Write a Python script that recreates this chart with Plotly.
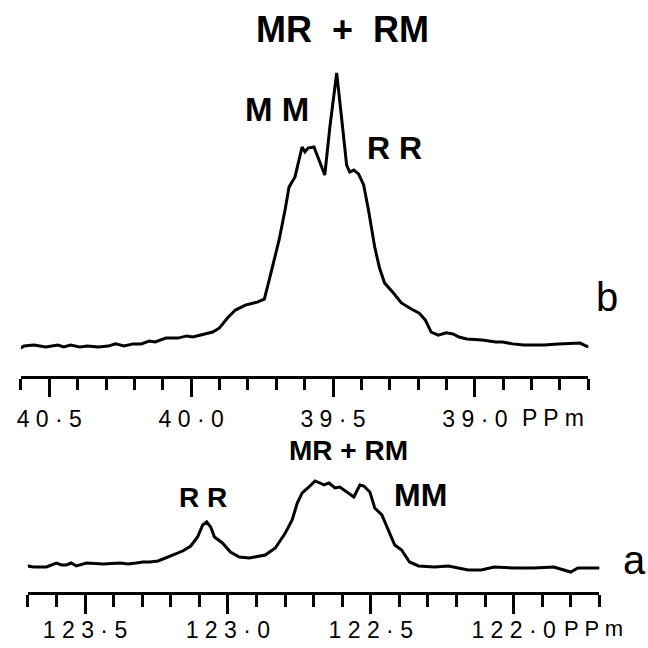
import plotly.graph_objects as go

# ---- Spectrum b (aliphatic region, ppm) ----
b_ppm = [40.614, 40.589, 40.554, 40.512, 40.470, 40.449, 40.425, 40.393, 40.365, 40.327,
         40.292, 40.267, 40.236, 40.204, 40.176, 40.148, 40.127, 40.089, 40.047, 40.015,
         39.994, 39.970, 39.924, 39.900, 39.872, 39.844, 39.809, 39.767, 39.742, 39.725,
         39.707, 39.690, 39.669, 39.655, 39.634, 39.620, 39.609, 39.599, 39.588, 39.567,
         39.553, 39.543, 39.529, 39.511, 39.487, 39.469, 39.452, 39.441, 39.427, 39.410,
         39.392, 39.375, 39.353, 39.336, 39.318, 39.287, 39.259, 39.224, 39.196, 39.175,
         39.154, 39.129, 39.101, 39.077, 39.056, 39.028, 38.975, 38.926, 38.902, 38.867,
         38.828, 38.786, 38.755, 38.706, 38.653, 38.629, 38.608, 38.594]
b_int = [-0.7, 0.7, 1.1, 0.4, 1.1, 0.4, 1.1, 0.4, 0.7, 0.4,
         0.7, 1.5, 0.7, 1.5, 1.5, 2.5, 2.2, 3.6, 3.6, 4.4,
         4.0, 4.7, 5.8, 7.3, 10.9, 13.8, 15.6, 16.7, 17.8, 24.7,
         32.7, 39.3, 50.2, 58.5, 62.2, 68.4, 73.1, 71.3, 72.7, 73.1,
         69.1, 66.5, 62.9, 80.4, 100.0, 82.9, 66.5, 64.0, 64.7, 63.3,
         59.3, 50.2, 36.7, 29.1, 23.6, 20.0, 16.4, 14.2, 12.7, 10.2,
         5.8, 4.7, 5.5, 5.1, 4.0, 3.3, 2.9, 2.2, 2.2, 1.5,
         1.1, 1.1, 1.1, 1.5, 1.8, 1.8, 0.7, 0.4]

# ---- Spectrum a (olefinic region, ppm) ----
a_ppm = [123.722, 123.680, 123.635, 123.600, 123.582, 123.565, 123.548, 123.530, 123.495, 123.436,
         123.377, 123.349, 123.321, 123.297, 123.273, 123.245, 123.227, 123.193, 123.158, 123.130,
         123.106, 123.088, 123.074, 123.060, 123.047, 123.019, 122.991, 122.960, 122.925, 122.869,
         122.834, 122.799, 122.775, 122.757, 122.740, 122.716, 122.695, 122.677, 122.664, 122.646,
         122.625, 122.608, 122.583, 122.559, 122.538, 122.524, 122.503, 122.486, 122.461, 122.437,
         122.416, 122.392, 122.364, 122.333, 122.277, 122.228, 122.159, 122.113, 122.068, 121.998,
         121.929, 121.859, 121.800, 121.775, 121.740, 121.696]
a_int = [1.2, -1.2, -1.2, 3.5, 1.2, 1.2, 3.5, 0.0, 3.5, 2.4,
         3.5, 2.4, 3.5, 4.7, 4.7, 5.9, 8.2, 12.9, 17.6, 23.5,
         34.1, 48.2, 51.8, 45.9, 34.1, 27.1, 16.5, 10.6, 9.4, 12.9,
         21.2, 38.8, 54.1, 74.1, 85.9, 92.9, 100.0, 97.6, 95.3, 97.6,
         91.8, 92.9, 87.1, 81.2, 95.3, 94.1, 87.1, 68.2, 60.0, 40.0,
         24.7, 18.8, 4.7, 0.0, -1.2, 0.0, -4.7, -4.7, -1.2, -2.4,
         -2.4, -1.2, -7.1, -2.4, -2.4, -2.4]

# ---- Axis ticks ----
b_major_vals = [40.5, 40.0, 39.5, 39.0]
b_major_text = ["4 0 · 5", "4 0 · 0", "3 9 · 5", "3 9 · 0"]
b_minor_vals = [40.6, 40.4, 40.3, 40.2, 40.1, 39.9, 39.8, 39.7, 39.6,
                39.4, 39.3, 39.2, 39.1, 38.9, 38.8, 38.7, 38.6]
a_major_vals = [123.5, 123.0, 122.5, 122.0]
a_major_text = ["1 2 3 · 5", "1 2 3 · 0", "1 2 2 · 5", "1 2 2 · 0"]
a_minor_vals = [123.7, 123.6, 123.4, 123.3, 123.2, 123.1, 122.9, 122.8, 122.7, 122.6,
                122.4, 122.3, 122.2, 122.1, 121.9, 121.8, 121.7]

W = H = 648
FONT = "Liberation Sans, Arial, sans-serif"
NB = "\u00a0"


def px(xp):
    return xp / W


def py(yp):
    return 1 - yp / H


fig = go.Figure()
fig.add_trace(go.Scatter(x=b_ppm, y=b_int, mode="lines", xaxis="x", yaxis="y",
                         line=dict(color="black", width=3), showlegend=False,
                         hoverinfo="skip"))
fig.add_trace(go.Scatter(x=a_ppm, y=a_int, mode="lines", xaxis="x2", yaxis="y2",
                         line=dict(color="black", width=3), showlegend=False,
                         hoverinfo="skip"))

common_x = dict(showgrid=False, zeroline=False, showline=True, linecolor="black",
                linewidth=2.5, ticks="outside", tickcolor="black", tickwidth=2.5,
                tickmode="array", fixedrange=True,
                tickfont=dict(family=FONT, size=23, color="black"))

fig.update_layout(
    width=W, height=H,
    margin=dict(l=0, r=0, t=0, b=0),
    paper_bgcolor="white", plot_bgcolor="white",
    xaxis=dict(common_x, domain=[px(17), px(588)], range=[40.6, 38.6],
               tickvals=b_major_vals, ticktext=b_major_text, ticklen=18,
               ticklabelstandoff=3, anchor="y",
               minor=dict(tickvals=b_minor_vals, ticks="outside", ticklen=11,
                          tickwidth=2.5, tickcolor="black", showgrid=False)),
    yaxis=dict(domain=[py(376), py(60)], range=[-10.18, 104.73], visible=False,
               fixedrange=True, anchor="x"),
    xaxis2=dict(common_x, domain=[px(24), px(599)], range=[123.7, 121.7],
                tickvals=a_major_vals, ticktext=a_major_text, ticklen=19,
                ticklabelstandoff=-3, anchor="y2",
                minor=dict(tickvals=a_minor_vals, ticks="outside", ticklen=12,
                           tickwidth=2.5, tickcolor="black", showgrid=False)),
    yaxis2=dict(domain=[py(592), py(470)], range=[-30.6, 112.9], visible=False,
                fixedrange=True, anchor="x2"),
)


def label(text, xp, yp, size, weight="normal"):
    fig.add_annotation(text=text, x=px(xp), y=py(yp), xref="paper", yref="paper",
                       xanchor="center", yanchor="middle", showarrow=False,
                       font=dict(family=FONT, size=size, color="black", weight=weight))


label("MR" + NB * 2 + "+" + NB * 2 + "RM", 341, 30, 36, "bold")
label("M M", 275, 110, 33, "bold")
label("R R", 393, 148, 32, "bold")
label("b", 607, 297, 40)
label("P P m", 552, 418, 23)

label("MR" + NB + "+" + NB + "RM", 347, 450, 28, "bold")
label("R R", 200, 497, 28, "bold")
label("MM", 419, 495, 32, "bold")
label("a", 634, 560, 40)
label("P P m", 593, 628, 22)

fig.write_html("out.html")
